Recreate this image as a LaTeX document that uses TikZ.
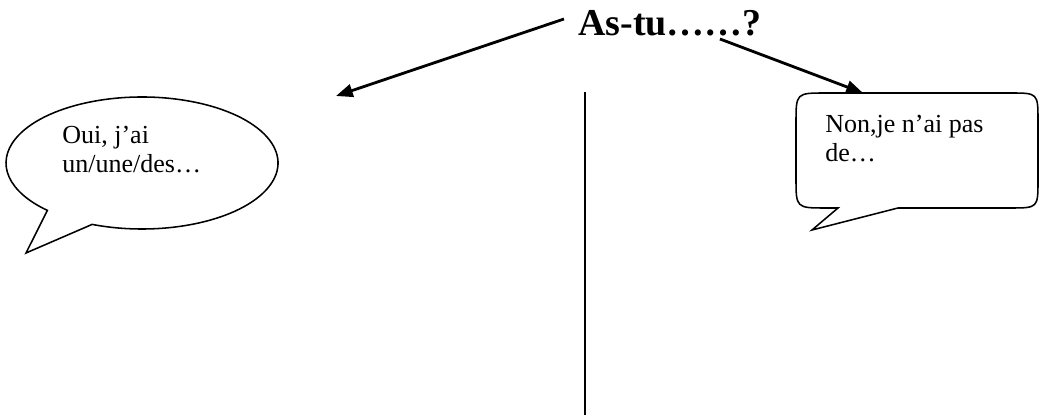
\documentclass[tikz,border=0pt]{standalone}
\usepackage{fontspec}
\setmainfont{Liberation Serif}
\usetikzlibrary{arrows.meta, positioning, calc}

\begin{document}
\begin{tikzpicture}[
    x=0.025cm, y=0.025cm,
    bubble/.style={draw, line width=1.1pt, fill=white},
    say/.style={align=left, anchor=north west, inner sep=0pt,
                font=\fontsize{18.5}{20.8}\selectfont},
    link/.style={line width=2pt, -{Triangle[length=0.42cm, width=0.32cm]}},
    divider/.style={line width=1.4pt},
]
\useasboundingbox (0,0) rectangle (1039,419);
% --- the question -----------------------------------------------------------
\node[anchor=base, inner sep=0pt, font=\fontsize{27}{30}\selectfont\bfseries]
  (astu) at (670,383) {As-tu……?};
% --- left bubble: oui -------------------------------------------------------
\coordinate (ouiC)   at (142,256);
\coordinate (ouiTip) at (26,166);
\draw[bubble] ([shift={(248.5:136 and 66)}]ouiC)
  arc[start angle=248.5, end angle=585.9, x radius=136, y radius=66]
  -- (ouiTip) -- cycle;
\node[say] (ouiTxt) at (62,293) {Oui, j’ai\\un/une/des…};
% --- right bubble: non ------------------------------------------------------
\coordinate (nonTip) at (812,189);
\draw[bubble] (838,211) -- (826,211) .. controls (796,211) .. (796,241)
  -- (796,296) .. controls (796,326) .. (826,326)
  -- (1010,326) .. controls (1038,326) .. (1038,298)
  -- (1038,239) .. controls (1038,211) .. (1010,211)
  -- (898,211) -- (nonTip) -- cycle;
\node[say] (nonTxt) at (825,304) {Non,je n’ai pas\\de…};
% --- arrows and divider -----------------------------------------------------
\coordinate (ouiEnd) at (336,323);
\coordinate (nonTop) at (863,326);
\draw[link] ($(astu.base west)+(-14,17)$) -- (ouiEnd);
\draw[link] ($(astu.base west)+(142,-3)$) -- (nonTop);
\coordinate (divTop) at (585,327);
\coordinate (divBot) at (585,4);
\draw[divider] (divTop) -- (divBot);
\end{tikzpicture}
\end{document}
